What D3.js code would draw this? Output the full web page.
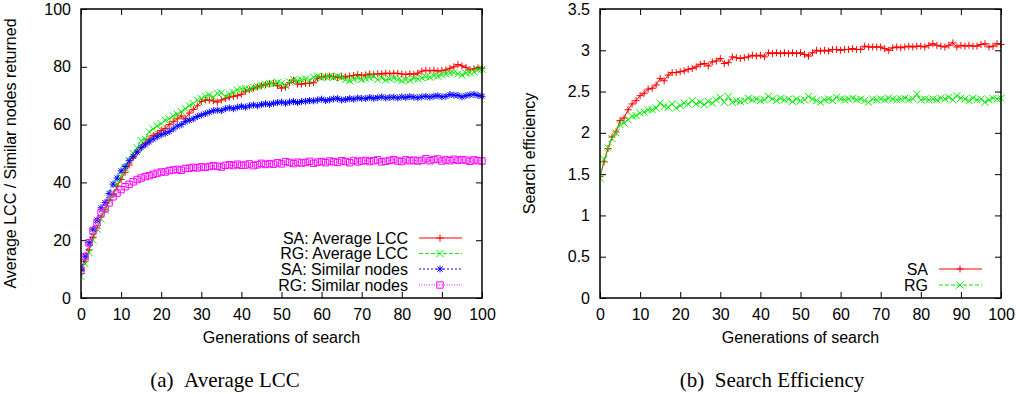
<!DOCTYPE html>
<html><head><meta charset="utf-8">
<script src="https://cdn.jsdelivr.net/npm/d3@7"></script>
<style>
body{margin:0;background:#fff;}
</style></head>
<body><svg id="c" width="1020" height="394"></svg>
<script>
// ---------------- DATA ----------------
const generations = d3.range(0, 101);
const xTicks = [0,10,20,30,40,50,60,70,80,90,100];
const yTicksA = [0,20,40,60,80,100];
const yTicksB = [0,0.5,1,1.5,2,2.5,3,3.5];

const saLCC = [9.5,12.6,16.6,21,24.2,28,30.5,33.8,35.8,38.7,
41,43.5,46,48.5,50.5,52,53.5,55,56.2,57,
58,58.7,60,61,62,63,62,64,65.2,66.5,
68,68.5,68.5,68.2,67.8,68.5,69,69.5,69.8,70,
70.5,71.5,72,72.6,73,73.5,73.8,74.2,74.3,73.5,
72.6,73,74.5,75.4,74,74,74.2,74.3,74.5,76,
76.6,76.5,76.8,76.6,76.2,76.7,76.5,76.8,77,77.3,
77,77.2,77.5,77.3,77.6,77.5,77.8,77.6,77.8,77.7,
77.5,77.3,77.6,77.4,77.8,78.5,78.8,78.6,78.8,78.5,
78.7,78.9,79.5,80,80.8,80.3,79.8,79,79.3,79.6,79.5];

const rgLCC = [7.4,11.8,15.7,20,23.9,27.3,30.3,33.8,36.1,39.5,
42,45,47.5,50,52,54.5,55,57.5,58.5,59.5,
60.3,61.5,62,63,63.6,64.5,65.5,66.5,67.3,68.5,
69,69.8,70.2,69.5,70.8,71,69.8,70.6,71.2,72,
72.3,72.5,72.2,73,73.2,73.6,74,74.3,74.1,74.6,
74.3,73.5,74.8,75.5,75.2,75.5,75.8,75.4,76.4,76.8,
76.2,76.5,76.7,76.3,76.8,76.3,75.6,75.2,75.7,76.2,
75.6,76,76.3,76.7,75.6,76.2,75.4,75.8,76.2,75.6,
75.2,75.6,75.3,76,75.8,76.2,76.6,76.4,77,76.7,
77.3,77.5,77.8,78,77.6,77.2,77.8,78,78.2,79,79.2];

const saSim = [9.9,14.5,19.1,23.8,27,31.2,33,36.2,39.4,41.5,
44,45.5,47.5,49,50.5,52,53,54,55,55.8,
56.5,57,57.6,58.5,59.5,60,61,61.5,62,62.8,
63.3,63.8,64.3,64.8,65,64.8,65.5,65.8,65.5,66,
66.3,66,66.5,66.8,66.5,67,67.2,67,67.4,67.6,
67.8,67.4,67.8,68,67.6,68,68.1,68.3,68.2,68.5,
68.8,68.3,68.6,68.9,69,68.5,68.7,69,68.8,69.2,
69.1,69,69.4,69.1,69.3,69.6,69.2,69.4,69.5,69.2,
69.6,69.4,69.7,69.5,69.3,69.6,69.8,69.5,69.8,70,
69.6,69.8,70.4,70.2,70.1,69.6,70,70.3,70.5,70.1,69.8];

const rgSim = [9.6,14.3,19.1,23.2,26.1,29.5,30.9,32.9,35,36.3,
37.5,38.5,39.3,40.2,41,41.5,42,42.3,42.8,43.2,
43.6,43.6,44.1,44.3,44.5,44.2,44.8,44.9,45.2,45,
45.4,45.2,45.5,45.8,45.6,45.3,45.9,46.1,45.8,46.3,
45.9,46,46.4,45.8,46.1,46.6,46.2,46.5,46.3,46.8,
46.4,47.2,46.9,46.5,47,46.7,46.9,47.3,46.6,47,
47.2,46.8,47.4,47.1,46.9,47.5,47.2,46.8,47.6,47.1,
47.4,47.6,47.2,47.5,47.8,47.1,47.3,47.6,47.9,47.4,
47.2,47.8,47.5,47.7,47.4,47.6,48.2,47.5,47.9,48.1,
47.4,47.8,47.5,48,47.6,47.9,47.7,47.3,47.8,47.5,47.4];

const saEff = [1.47,1.65,1.81,1.95,2.01,2.15,2.18,2.28,2.35,2.39,
2.45,2.48,2.53,2.54,2.58,2.66,2.63,2.70,2.73,2.73,
2.74,2.75,2.77,2.78,2.80,2.83,2.84,2.81,2.86,2.87,
2.90,2.84,2.85,2.92,2.91,2.90,2.91,2.92,2.94,2.93,
2.94,2.92,2.97,2.96,2.97,2.96,2.97,2.96,2.97,2.96,
2.97,2.95,2.93,2.97,3.00,2.99,3.00,2.99,3.01,3.01,
3.00,3.01,3.01,3.02,3.01,3.01,3.05,3.04,3.04,3.04,
3.04,3.02,3.00,3.03,3.04,3.03,3.04,3.05,3.04,3.05,
3.05,3.04,3.06,3.08,3.06,3.05,3.04,3.06,3.09,3.04,
3.06,3.05,3.06,3.05,3.05,3.07,3.08,3.04,3.05,3.08,3.07];

const rgEff = [1.45,1.68,1.82,1.93,2.00,2.10,2.12,2.16,2.20,2.21,
2.24,2.25,2.28,2.28,2.30,2.36,2.32,2.31,2.35,2.30,
2.33,2.36,2.35,2.39,2.35,2.37,2.34,2.38,2.36,2.40,
2.43,2.37,2.44,2.37,2.39,2.38,2.39,2.42,2.40,2.41,
2.39,2.40,2.44,2.41,2.39,2.42,2.40,2.41,2.38,2.41,
2.39,2.40,2.44,2.41,2.39,2.37,2.40,2.41,2.39,2.43,
2.41,2.40,2.41,2.42,2.40,2.41,2.39,2.37,2.41,2.40,
2.41,2.40,2.42,2.41,2.40,2.41,2.42,2.40,2.41,2.47,
2.40,2.41,2.40,2.41,2.40,2.42,2.41,2.43,2.40,2.45,
2.42,2.41,2.39,2.42,2.40,2.41,2.37,2.40,2.42,2.41,2.42];

const labelsA = ["SA: Average LCC","RG: Average LCC","SA: Similar nodes","RG: Similar nodes"];
const labelsB = ["SA","RG"];
const colors = ["#ff0000","#00ee00","#0000ff","#ff00ff"];
const dashes = [null,"4,2","2,2","1,1.5"];
const markers = ["plus","cross","star","square"];

// ---------------- DRAW ----------------
const svg = d3.select("#c");
const FS = 16;
const SANS = "'Liberation Sans', Arial, sans-serif";
const SERIF = "'Liberation Serif', 'Times New Roman', serif";

function markerPath(type){
  const s = 3.5;
  if(type==="plus") return `M${-s},0H${s}M0,${-s}V${s}`;
  if(type==="cross") return `M${-s},${-s}L${s},${s}M${-s},${s}L${s},${-s}`;
  if(type==="star") return `M${-s},0H${s}M0,${-s}V${s}M${-2.6},${-2.6}L2.6,2.6M-2.6,2.6L2.6,-2.6`;
  return `M-3.2,-3.2H3.2V3.2H-3.2Z`;
}

function panel(opts){
  const {x0,x1,y0,y1,yDomain,yTicks,series,labels,yTitle,caption,capX,legTextX,legRows,yFmt} = opts;
  const g = svg.append("g");
  const x = d3.scaleLinear().domain([0,100]).range([x0,x1]);
  const y = d3.scaleLinear().domain(yDomain).range([y1,y0]);

  const axB = d3.axisBottom(x).tickValues(xTicks).tickSize(-6).tickPadding(11);
  const axT = d3.axisTop(x).tickValues(xTicks).tickSize(-6).tickFormat("");
  const axL = d3.axisLeft(y).tickValues(yTicks).tickSize(-6).tickPadding(10).tickFormat(yFmt);
  const axR = d3.axisRight(y).tickValues(yTicks).tickSize(-6).tickFormat("");
  [[axB,`translate(0,${y1})`],[axT,`translate(0,${y0})`],[axL,`translate(${x0},0)`],[axR,`translate(${x1},0)`]]
    .forEach(([a,t])=>{
      const ag = g.append("g").attr("transform",t).call(a);
      ag.select(".domain").remove();
      ag.selectAll("line").attr("stroke","#000").attr("stroke-width",1);
      ag.selectAll("text").style("font-size",FS+"px").style("font-family",SANS).attr("fill","#000");
    });

  const clipId = "clip"+x0;
  g.append("clipPath").attr("id",clipId).append("rect")
    .attr("x",x0).attr("y",y0-5).attr("width",x1-x0+5).attr("height",y1-y0+5);

  const line = d3.line().x((d,i)=>x(generations[i])).y(d=>y(d));
  series.forEach((s,k)=>{
    const sg = g.append("g").attr("clip-path",`url(#${clipId})`);
    sg.append("path").datum(s).attr("d",line).attr("fill","none")
      .attr("stroke",colors[k]).attr("stroke-width",1)
      .attr("stroke-dasharray",dashes[k]);
    sg.selectAll("path.m").data(s).enter().append("path").attr("class","m")
      .attr("transform",(d,i)=>`translate(${x(generations[i])},${y(d)})`)
      .attr("d",markerPath(markers[k])).attr("fill","none")
      .attr("stroke",colors[k]).attr("stroke-width",1);
  });

  // frame
  g.append("rect").attr("x",x0).attr("y",y0).attr("width",x1-x0).attr("height",y1-y0)
    .attr("fill","none").attr("stroke","#000").attr("stroke-width",1.5);

  // legend
  labels.forEach((lab,k)=>{
    const ry = legRows[k];
    g.append("text").attr("x",legTextX).attr("y",ry).attr("dy","0.35em")
      .attr("text-anchor","end").style("font-size",FS+"px").style("font-family",SANS).text(lab);
    g.append("line").attr("x1",legTextX+11).attr("x2",legTextX+54).attr("y1",ry).attr("y2",ry)
      .attr("stroke",colors[k]).attr("stroke-width",1).attr("stroke-dasharray",dashes[k]);
    g.append("path").attr("transform",`translate(${legTextX+32},${ry})`)
      .attr("d",markerPath(markers[k])).attr("fill","none").attr("stroke",colors[k]).attr("stroke-width",1);
  });

  // axis titles
  g.append("text").attr("x",(x0+x1)/2).attr("y",343).attr("text-anchor","middle")
    .style("font-size",FS+"px").style("font-family",SANS).text("Generations of search");
  g.append("text").attr("transform",`translate(${x0-65},${(y0+y1)/2}) rotate(-90)`)
    .attr("text-anchor","middle").style("font-size",FS+"px").style("font-family",SANS).text(yTitle);

  // caption
  svg.append("text").attr("x",capX).attr("y",387).attr("text-anchor","middle")
    .style("font-family",SERIF).style("font-size","21px")
    .attr("fill","#000").text(caption);
}

panel({x0:81,x1:482,y0:9,y1:298,yDomain:[0,100],yTicks:yTicksA,
  series:[saLCC,rgLCC,saSim,rgSim],labels:labelsA,
  yTitle:"Average LCC / Similar nodes returned",caption:"(a)\u2002Average LCC",capX:225,
  legTextX:408,legRows:[238,253.5,269,285],yFmt:d3.format("d")});

panel({x0:600,x1:1001,y0:9,y1:298,yDomain:[0,3.5],yTicks:yTicksB,
  series:[saEff,rgEff],labels:labelsB,
  yTitle:"Search efficiency",caption:"(b)\u2002Search Efficiency",capX:772,
  legTextX:928,legRows:[269,285],yFmt:d=>d3.format("")(d)});
</script></body></html>
